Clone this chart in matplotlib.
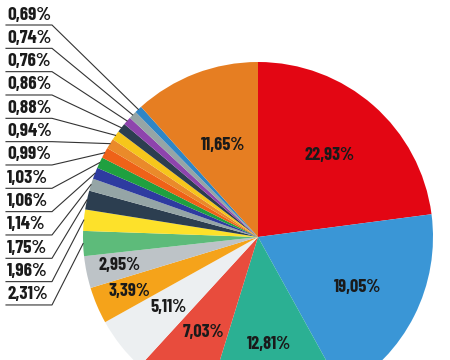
import numpy as np
import matplotlib.pyplot as plt

# ____________________________________________________________________
# DATA

shares = [22.93, 19.05, 12.81, 7.03, 5.11, 3.39, 2.95, 2.31, 1.96, 1.75, 1.14,
          1.06, 1.03, 0.99, 0.94, 0.88, 0.86, 0.76, 0.74, 0.69, 11.65]
colours = ['#e30613', '#3a96d6', '#2bb093', '#e84c3d', '#eceff1', '#f5a31a',
           '#bdc3c7', '#5dbb7a', '#fde12a', '#2c3e50', '#95a5a6', '#2e3ba0',
           '#1fa040', '#ef6218', '#ea8a2a', '#f6c61b', '#2c3e50', '#8e44ad',
           '#95a5a6', '#2f86c6', '#e67e22']
# slices labelled inside the pie, with radial position of the label
inner = {0: 0.62, 1: 0.64, 2: 0.62, 3: 0.63, 4: 0.65, 5: 0.80, 6: 0.81, 20: 0.56}
# slices labelled on the left, top to bottom
outer = [19, 18, 17, 16, 15, 14, 13, 12, 11, 10, 9, 8, 7]

def fmt(v):
    return '{:.2f}%'.format(v).replace('.', ',')

# ____________________________________________________________________
# PLOT

font = ['Barlow Condensed', 'Liberation Sans Narrow', 'DejaVu Sans']
fig = plt.figure(figsize=(4.5, 3.6), dpi=100)
ax = fig.add_axes([0, 0, 1, 1])

cx, cy, R = 258, 123, 175
wedges, _ = ax.pie(shares, colors=colours, startangle=90, counterclock=False,
                   center=(cx, cy), radius=R, wedgeprops=dict(linewidth=0))

# mid angle of every wedge
mids = [np.deg2rad((w.theta1 + w.theta2) / 2) for w in wedges]

for i, d in inner.items():
    ax.text(cx + d * R * np.cos(mids[i]), cy + d * R * np.sin(mids[i]), fmt(shares[i]),
            ha='center', va='center', fontsize=13.2, fontweight='bold',
            color='#1a1a1a', family=font)

for k, i in enumerate(outer):
    yu = 360 - (25 + 23.33 * k)
    ax.text(7, yu + 1.5, fmt(shares[i]), ha='left', va='bottom', fontsize=13.7,
            fontweight='bold', color='#1a1a1a', family=font)
    ex = cx + R * np.cos(mids[i])
    ey = cy + R * np.sin(mids[i])
    ax.plot([6, 52, ex], [yu, yu, ey], color='#333333', lw=0.8, solid_joinstyle='miter')

ax.set_xlim(0, 450)
ax.set_ylim(0, 360)
ax.set_aspect('equal')
ax.set_axis_off()

fig.savefig('out.png', dpi=100)
